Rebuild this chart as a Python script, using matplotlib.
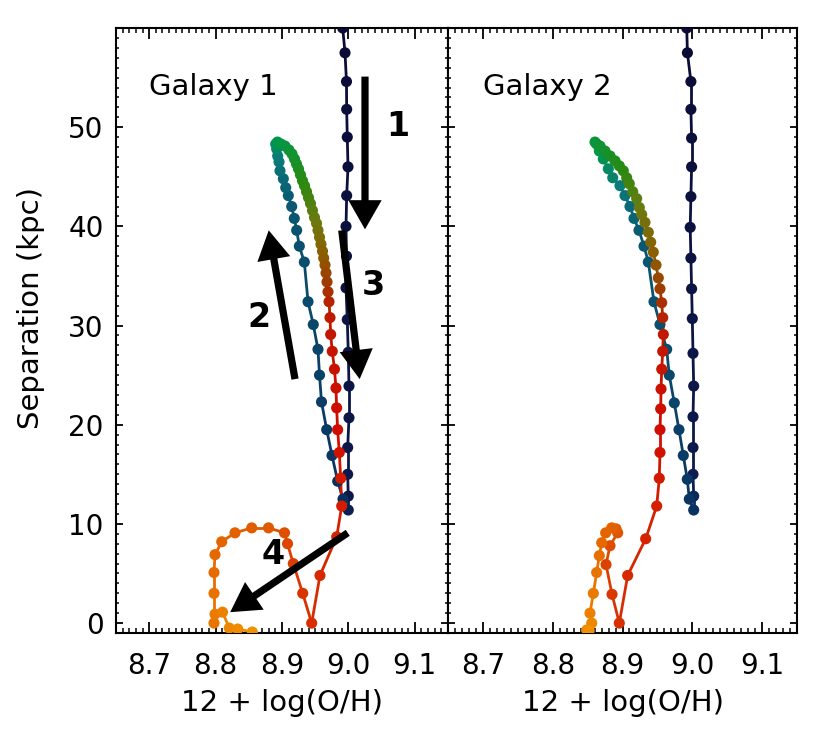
import numpy as np
import matplotlib
matplotlib.use('Agg')
import matplotlib.pyplot as plt
from matplotlib.collections import LineCollection
from matplotlib.colors import LinearSegmentedColormap
from matplotlib.patches import FancyArrowPatch
from matplotlib.ticker import MultipleLocator

# ---------------- data ----------------
# Galaxy 1 track: 12+log(O/H) vs separation (kpc), in time order
g1_oh = [8.9914, 8.9949, 8.9971, 8.9974, 8.9983, 8.9994, 8.9974, 8.9964, 8.9971, 8.9964,
         8.9983, 8.9998, 9.0009, 9.0009, 8.9989, 8.9989, 8.9998, 8.9998,
         8.9919, 8.9839, 8.9753, 8.9673, 8.9595, 8.9565, 8.9542, 8.9471, 8.9392, 8.9336,
         8.9261, 8.9221, 8.9185, 8.9146, 8.9095, 8.9056, 8.9020, 8.8970, 8.8955, 8.8935,
         8.8920, 8.8905,
         8.8932, 8.8985, 8.9045, 8.9105, 8.9151, 8.9188, 8.9218, 8.9248, 8.9278, 8.9309,
         8.9339, 8.9369, 8.9399, 8.9429, 8.9459, 8.9489, 8.9520, 8.9542, 8.9565, 8.9587,
         8.9610, 8.9628, 8.9648, 8.9663, 8.9678, 8.9693, 8.9708, 8.9723, 8.9733, 8.9757,
         8.9790, 8.9813, 8.9823, 8.9838, 8.9863, 8.9884, 8.9899, 8.9824, 8.9572, 8.9447,
         8.9312, 8.9170, 8.9083, 8.9038, 8.8797, 8.8544, 8.8292, 8.8092, 8.7991, 8.7976,
         8.7976, 8.7976, 8.7991, 8.8104, 8.8206, 8.8333, 8.8553]
g1_sep = [60.0, 57.5, 54.6, 51.8, 49.0, 46.0, 43.1, 40.0, 37.0, 33.8,
          30.6, 27.3, 23.9, 20.7, 17.7, 15.0, 12.8, 11.4,
          12.5, 14.3, 16.9, 19.5, 22.3, 25.0, 27.6, 30.1, 32.4, 36.4,
          38.0, 39.6, 40.8, 42.0, 43.1, 43.9, 44.8, 45.6, 46.5, 47.1,
          47.8, 48.3,
          48.5, 48.3, 48.1, 47.7, 47.3, 46.8, 46.3, 45.8, 45.2, 44.6,
          44.1, 43.5, 42.9, 42.3, 41.6, 40.9, 40.3, 39.6, 38.9, 38.2,
          37.5, 36.8, 36.1, 35.3, 34.4, 33.4, 32.4, 30.8, 29.1, 27.4,
          25.6, 23.7, 21.7, 19.5, 17.2, 14.6, 11.8, 8.7, 4.8, 0.0,
          3.0, 6.0, 8.0, 9.1, 9.6, 9.6, 9.1, 8.2, 6.9, 5.1,
          3.0, 0.0, 0.9, 1.1, -0.5, -0.6, -0.9]

# Galaxy 2 track
g2_oh = [8.9920, 8.9930, 8.9980, 8.9980, 8.9990, 8.9990, 8.9980, 8.9970, 8.9980, 8.9990,
         9.0000, 9.0010, 9.0020, 9.0010, 9.0010, 9.0010, 9.0020, 9.0020,
         8.9957, 8.9928, 8.9871, 8.9809, 8.9742, 8.9670, 8.9633, 8.9537, 8.9451, 8.9370,
         8.9308, 8.9236, 8.9165, 8.9107, 8.9036, 8.8964, 8.8860, 8.8797, 8.8725, 8.8668,
         8.8630,
         8.8606, 8.8678, 8.8749, 8.8821, 8.8893, 8.8954, 8.9012, 8.9060, 8.9097, 8.9146,
         8.9203, 8.9241, 8.9275, 8.9322, 8.9370, 8.9404, 8.9441, 8.9480, 8.9513, 8.9537,
         8.9562, 8.9576, 8.9585, 8.9576, 8.9562, 8.9552, 8.9547, 8.9537, 8.9537, 8.9527,
         8.9490, 8.9332, 8.9074, 8.8954, 8.8850, 8.8764, 8.8821, 8.8931, 8.8907, 8.8845,
         8.8759, 8.8702, 8.8668, 8.8630, 8.8582, 8.8534, 8.8559, 8.8487, 8.8520]
g2_sep = [60.0, 57.5, 54.6, 51.8, 48.9, 46.0, 43.0, 39.9, 36.8, 33.7,
          30.7, 27.2, 23.9, 20.8, 17.7, 15.0, 12.8, 11.4,
          12.5, 14.5, 16.9, 19.5, 22.2, 25.0, 27.6, 30.1, 32.4, 36.4,
          38.0, 39.6, 40.8, 42.0, 43.1, 44.1, 44.9, 45.8, 46.8, 47.6,
          48.3,
          48.5, 48.1, 47.6, 47.1, 46.6, 46.1, 45.6, 44.9, 44.3, 43.5,
          42.8, 41.9, 41.2, 40.4, 39.4, 38.4, 37.4, 36.1, 34.8, 33.7,
          32.3, 30.8, 29.1, 27.4, 25.6, 23.6, 21.6, 19.5, 17.2, 14.6,
          11.8, 8.5, 4.8, 0.0, 2.9, 5.9, 7.8, 9.1, 9.5, 9.6,
          9.1, 8.1, 6.8, 5.1, 3.0, 1.0, 0.0, -0.7, -0.8]

x_ticks = [8.7, 8.8, 8.9, 9.0, 9.1]
x_ticklabels = ['8.7', '8.8', '8.9', '9.0', '9.1']
y_ticks = [0, 10, 20, 30, 40, 50]
y_ticklabels = ['0', '10', '20', '30', '40', '50']
panel_titles = ['Galaxy 1', 'Galaxy 2']
x_label = '12 + log(O/H)'
y_label = 'Separation (kpc)'

# arrows in the Galaxy 1 panel
arrow_labels = ['1', '2', '3', '4']
arrow_tail_oh = [9.025, 8.9196, 8.990, 8.999]
arrow_tail_sep = [55.1, 24.6, 39.6, 9.1]
arrow_tip_oh = [9.025, 8.880, 9.017, 8.822]
arrow_tip_sep = [39.7, 39.6, 24.6, 1.1]
label_oh = [9.075, 8.865, 9.037, 8.886]
label_sep = [50.1, 30.8, 34.0, 6.9]

# ---------------- style ----------------
cmap = LinearSegmentedColormap.from_list('track', [
    (0.00, '#0b0b35'), (0.17, '#0c1a4c'), (0.19, '#0a3060'), (0.28, '#0a4d6d'),
    (0.33, '#0a5a72'), (0.38, '#0a7a7a'), (0.42, '#00984a'), (0.52, '#2a8a10'),
    (0.58, '#6a7a10'), (0.63, '#8a6000'), (0.67, '#a03a00'), (0.70, '#c01800'),
    (0.76, '#d00c00'), (0.83, '#d83000'), (0.88, '#e05a00'), (0.94, '#e87000'),
    (1.00, '#f09000')])

plt.rcParams['font.family'] = ['DejaVu Sans']

fig = plt.figure(figsize=(8.3, 7.38), dpi=100)
W, H = 830, 738
ax1 = fig.add_axes([116 / W, 1 - 633 / H, 332 / W, 605 / H])
ax2 = fig.add_axes([448 / W, 1 - 633 / H, 349 / W, 605 / H])


def draw_track(ax, x, y):
    x = np.asarray(x)
    y = np.asarray(y)
    n = len(x)
    t = np.linspace(0, 1, n)
    pts = np.column_stack([x, y])
    segs = np.stack([pts[:-1], pts[1:]], axis=1)
    lc = LineCollection(segs, colors=cmap((t[:-1] + t[1:]) / 2), linewidths=2.0,
                        zorder=2, capstyle='round')
    ax.add_collection(lc)
    ax.scatter(x, y, c=cmap(t), s=64, linewidths=0, zorder=3)


for ax, (x, y), title in zip([ax1, ax2], [(g1_oh, g1_sep), (g2_oh, g2_sep)], panel_titles):
    draw_track(ax, x, y)
    ax.set_xlim(8.65, 9.15)
    ax.set_ylim(-1, 60)
    ax.set_xticks(x_ticks)
    ax.set_xticklabels(x_ticklabels)
    ax.set_yticks(y_ticks)
    ax.set_yticklabels(y_ticklabels)
    ax.xaxis.set_minor_locator(MultipleLocator(0.01))
    ax.yaxis.set_minor_locator(MultipleLocator(1))
    ax.tick_params(which='both', direction='in', top=True, right=True, colors='black')
    ax.tick_params(axis='x', which='major', length=8, width=1.3, pad=14, labelsize=20)
    ax.tick_params(axis='x', which='minor', length=3.6, width=1.1)
    ax.tick_params(axis='y', which='major', length=5, width=1.3, pad=9, labelsize=20)
    ax.tick_params(axis='y', which='minor', length=2.5, width=1.1)
    for s in ax.spines.values():
        s.set_linewidth(1.5)
    ax.set_xlabel(x_label, fontsize=21)
    ax.xaxis.set_label_coords(0.5, -0.092)
    ax.text(8.70, 54.1, title, fontsize=21, ha='left', va='center')

ax2.tick_params(axis='y', which='both', labelleft=False)
ax1.set_ylabel(y_label, fontsize=21)
ax1.yaxis.set_label_coords(-0.215, 0.537)

for i in range(len(arrow_labels)):
    arr = FancyArrowPatch((arrow_tail_oh[i], arrow_tail_sep[i]),
                          (arrow_tip_oh[i], arrow_tip_sep[i]),
                          arrowstyle='simple,head_length=21,head_width=24,tail_width=5.2',
                          mutation_scale=1, color='black', lw=0, shrinkA=0, shrinkB=0,
                          zorder=5)
    ax1.add_patch(arr)
    ax1.text(label_oh[i], label_sep[i], arrow_labels[i], fontsize=24, fontweight='bold',
             ha='center', va='center', zorder=6)

fig.savefig('out.png', dpi=100)
